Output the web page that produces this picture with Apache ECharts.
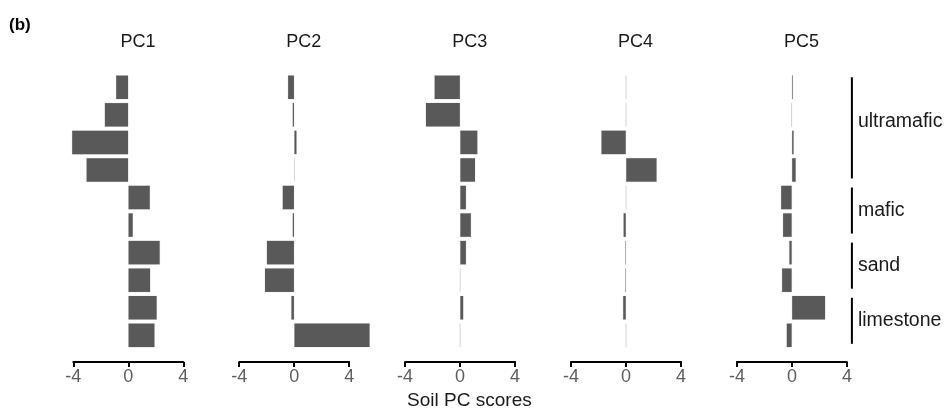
<!DOCTYPE html>
<html>
<head>
<meta charset="utf-8">
<script src="https://cdn.jsdelivr.net/npm/echarts@6/dist/echarts.min.js"></script>
<style>
html,body{margin:0;padding:0;background:#fff;}
#chart{width:946px;height:417px;}
</style>
</head>
<body>
<div id="chart"></div>
<script>
// ---- data ----
const categories = ['U1','U2','U3','U4','M1','M2','S1','S2','L1','L2'];
const categoryGroup = ['ultramafic','ultramafic','ultramafic','ultramafic','mafic','mafic','sand','sand','limestone','limestone'];
const groupNames = ['ultramafic','mafic','sand','limestone'];
const panelNames = ['PC1','PC2','PC3','PC4','PC5'];
const pc1 = [-0.9, -1.72, -4.1, -3.05, 1.58, 0.34, 2.3, 1.6, 2.08, 1.92];
const pc2 = [-0.46, -0.12, 0.18, 0.03, -0.85, -0.12, -2.0, -2.14, -0.22, 5.5];
const pc3 = [-1.87, -2.5, 1.27, 1.1, 0.44, 0.8, 0.44, 0.02, 0.24, 0.01];
const pc4 = [0.01, 0.01, -1.8, 2.24, 0.01, -0.19, -0.06, -0.06, -0.22, 0.01];
const pc5 = [0.08, -0.04, 0.14, 0.29, -0.8, -0.66, -0.2, -0.73, 2.43, -0.39];
const xTicks = [-4, 0, 4];
const xLabel = 'Soil PC scores';
const panelLabel = '(b)';
const panelValues = [pc1, pc2, pc3, pc4, pc5];

// ---- layout ----
const FONT = 'Liberation Sans, Arial, Helvetica, sans-serif';
const gridLeft0 = 73.3, gridStep = 165.9, gridWidth = 110;
const gridTop = 73.5, gridHeight = 275.6;
const xMin = xTicks[0], xMax = xTicks[xTicks.length - 1];

const chart = echarts.init(document.getElementById('chart'), null, {renderer: 'canvas'});

const grids = [], xAxes = [], yAxes = [], series = [], titles = [];
panelNames.forEach((name, i) => {
  const left = gridLeft0 + gridStep * i;
  grids.push({left: left, top: gridTop, width: gridWidth, height: gridHeight, containLabel: false});
  xAxes.push({
    type: 'value', gridIndex: i, min: xMin, max: xMax, interval: xTicks[1] - xTicks[0],
    offset: 13,
    axisLine: {show: true, onZero: false, lineStyle: {color: '#000', width: 2}},
    axisTick: {show: true, length: 5, lineStyle: {color: '#000', width: 2}},
    axisLabel: {color: '#5e5e5e', fontSize: 18, fontFamily: FONT, margin: 6},
    splitLine: {show: false}
  });
  yAxes.push({
    type: 'category', gridIndex: i, data: categories, inverse: true,
    show: false
  });
  series.push({
    type: 'bar', xAxisIndex: i, yAxisIndex: i, data: panelValues[i],
    barCategoryGap: '13%', clip: false,
    itemStyle: {color: '#595959', borderColor: 'rgba(89,89,89,0.25)', borderWidth: 0.5},
    silent: true
  });
  titles.push({
    text: name, left: left + gridWidth / 2 + 9.6, top: 33, textAlign: 'center', padding: 0,
    textStyle: {fontSize: 18, fontWeight: 'normal', color: '#1a1a1a', fontFamily: FONT}
  });
});
titles.push({
  text: xLabel, left: gridLeft0 + gridStep * 2 + gridWidth / 2 + 9.3, top: 391, textAlign: 'center', padding: 0,
  textStyle: {fontSize: 19, fontWeight: 'normal', color: '#1a1a1a', fontFamily: FONT}
});
titles.push({
  text: panelLabel, left: 9, top: 17, padding: 0,
  textStyle: {fontSize: 17, fontWeight: 'bold', color: '#000', fontFamily: FONT}
});

chart.setOption({
  animation: false,
  title: titles,
  grid: grids,
  xAxis: xAxes,
  yAxis: yAxes,
  series: series
});

// ---- group brackets on the right (derived from category positions) ----
const lastGrid = panelNames.length - 1;
const bracketX = gridLeft0 + gridStep * lastGrid + gridWidth + 5;
const graphics = [];
groupNames.forEach(g => {
  const idx = categories.map((c, k) => k).filter(k => categoryGroup[k] === g);
  const first = categories[idx[0]], last = categories[idx[idx.length - 1]];
  const y1 = chart.convertToPixel({yAxisIndex: lastGrid}, first);
  const y2 = chart.convertToPixel({yAxisIndex: lastGrid}, last);
  const top = y1 - 10, bottom = y2 + 8.5;
  graphics.push({
    type: 'line', shape: {x1: bracketX, y1: top, x2: bracketX, y2: bottom},
    style: {stroke: '#000', lineWidth: 2}, silent: true
  });
  graphics.push({
    type: 'text', x: bracketX + 6, y: (top + bottom) / 2 - (g === 'ultramafic' ? 6 : 0),
    style: {text: g, fill: '#1a1a1a', fontSize: 19.5, fontFamily: FONT, textVerticalAlign: 'middle', verticalAlign: 'middle', align: 'left'},
    silent: true
  });
});
chart.setOption({graphic: graphics});
</script>
</body>
</html>
